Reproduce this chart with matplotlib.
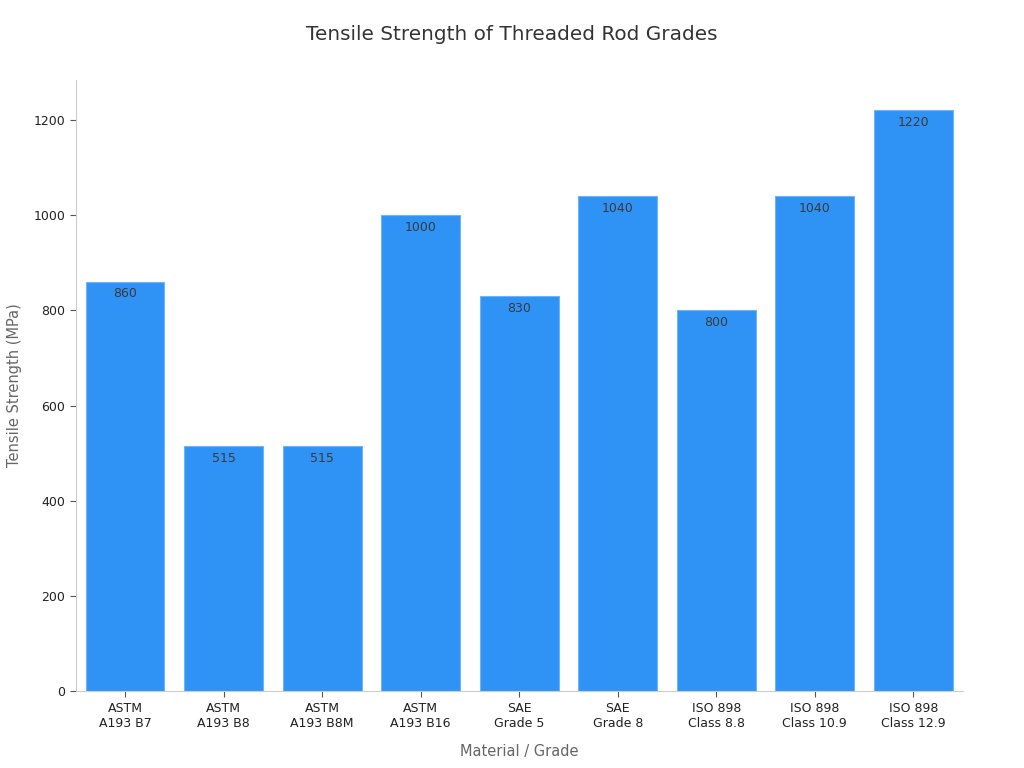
import matplotlib
matplotlib.use("Agg")
import matplotlib.pyplot as plt

grades = [
    "ASTM\nA193 B7", "ASTM\nA193 B8", "ASTM\nA193 B8M", "ASTM\nA193 B16",
    "SAE\nGrade 5", "SAE\nGrade 8", "ISO 898\nClass 8.8", "ISO 898\nClass 10.9",
    "ISO 898\nClass 12.9",
]
tensile_mpa = [860, 515, 515, 1000, 830, 1040, 800, 1040, 1220]

fig = plt.figure(figsize=(10.24, 7.68), dpi=100)
ax = fig.add_axes([0.074, 0.100, 0.866, 0.796])

x = range(len(grades))
bars = ax.bar(x, tensile_mpa, width=0.8, color="#2F93F6", edgecolor="#6FB4F8", linewidth=0.8)

for b, v in zip(bars, tensile_mpa):
    ax.text(b.get_x() + b.get_width() / 2, v - 12, str(v), ha="center", va="top",
            fontsize=9, color="#3a3a3a")

ax.set_xlim(-0.5, 8.5)
ax.set_ylim(0, 1284)
ax.set_yticks([0, 200, 400, 600, 800, 1000, 1200])
ax.set_xticks(list(x))
ax.set_xticklabels(grades, fontsize=9, color="#222222")
ax.tick_params(axis="y", labelsize=9, colors="#222222")
ax.tick_params(axis="both", color="#555555", length=4)

for s in ["top", "right"]:
    ax.spines[s].set_visible(False)
for s in ["left", "bottom"]:
    ax.spines[s].set_color("#cccccc")

ax.set_xlabel("Material / Grade", fontsize=10.5, color="#666666", labelpad=10)
ax.set_ylabel("Tensile Strength (MPa)", fontsize=10.5, color="#666666", labelpad=8)
fig.suptitle("Tensile Strength of Threaded Rod Grades", fontsize=14.4, color="#333333", y=0.968)

fig.savefig("out.png", dpi=100)
